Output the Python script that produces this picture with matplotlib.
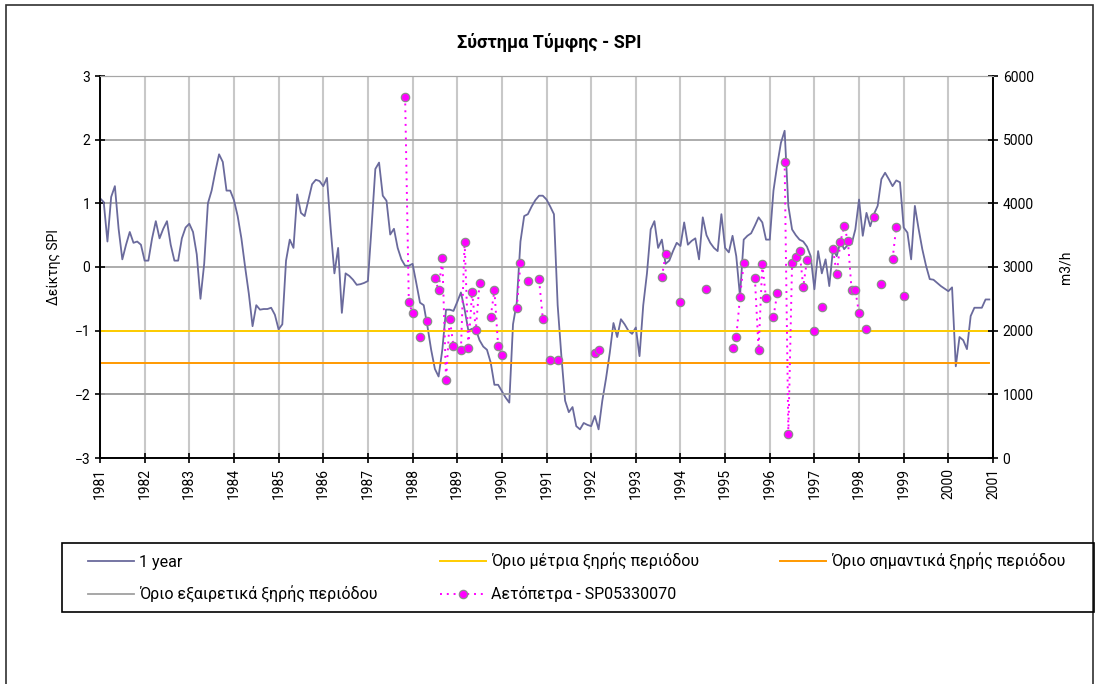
import matplotlib
matplotlib.use("Agg")
import matplotlib.pyplot as plt
from matplotlib.patches import Rectangle
import numpy as np

plt.rcParams['font.family'] = ['Roboto', 'DejaVu Sans']

# SPI 1 year, monthly values Jan 1981 - Dec 2000
spi_1year = [
    1.08, 1.02, 0.4, 1.1, 1.27, 0.6, 0.12, 0.35, 0.55, 0.38, 0.4, 0.35,          # 1981
    0.1, 0.1, 0.45, 0.72, 0.45, 0.6, 0.72, 0.35, 0.1, 0.1, 0.45, 0.62,           # 1982
    0.68, 0.55, 0.2, -0.5, 0.05, 1.0, 1.2, 1.5, 1.77, 1.65, 1.2, 1.2,            # 1983
    1.05, 0.8, 0.45, 0.0, -0.42, -0.93, -0.6, -0.67, -0.66, -0.66, -0.64, -0.75, # 1984
    -0.98, -0.9, 0.1, 0.43, 0.3, 1.14, 0.85, 0.8, 1.05, 1.3, 1.37, 1.35,         # 1985
    1.27, 1.4, 0.6, -0.1, 0.3, -0.72, -0.1, -0.14, -0.2, -0.28, -0.27, -0.25,    # 1986
    -0.22, 0.64, 1.54, 1.64, 1.12, 1.04, 0.51, 0.6, 0.3, 0.12, 0.02, 0.02,       # 1987
    0.05, -0.25, -0.56, -0.6, -0.93, -1.3, -1.6, -1.72, -1.3, -0.67, -0.67, -0.69,  # 1988
    -0.55, -0.4, -0.67, -1.0, -0.97, -0.98, -1.15, -1.25, -1.3, -1.5, -1.85, -1.85, # 1989
    -1.95, -2.05, -2.13, -0.9, -0.56, 0.4, 0.8, 0.83, 0.95, 1.05, 1.12, 1.12,    # 1990
    1.06, 0.95, 0.83, -0.6, -1.4, -2.1, -2.28, -2.2, -2.5, -2.55, -2.45, -2.48,  # 1991
    -2.5, -2.34, -2.55, -2.1, -1.75, -1.35, -0.88, -1.1, -0.82, -0.9, -1.0, -1.05,  # 1992
    -0.95, -1.4, -0.6, -0.1, 0.59, 0.72, 0.3, 0.43, 0.05, 0.1, 0.25, 0.38,       # 1993
    0.33, 0.7, 0.35, 0.41, 0.45, 0.12, 0.78, 0.5, 0.38, 0.3, 0.25, 0.83,         # 1994
    0.3, 0.23, 0.49, 0.17, -0.46, 0.43, 0.49, 0.53, 0.65, 0.78, 0.7, 0.43,       # 1995
    0.43, 1.2, 1.6, 1.95, 2.14, 0.96, 0.59, 0.5, 0.43, 0.4, 0.32, 0.17,          # 1996
    -0.35, 0.25, -0.1, 0.12, -0.3, 0.28, 0.17, 0.4, 0.28, 0.35, 0.36, 0.59,      # 1997
    1.06, 0.49, 0.85, 0.64, 0.83, 0.96, 1.38, 1.48, 1.38, 1.27, 1.36, 1.33,      # 1998
    0.62, 0.54, 0.12, 0.96, 0.6, 0.28, 0.02, -0.19, -0.2, -0.25, -0.3, -0.34,    # 1999
    -0.38, -0.32, -1.56, -1.1, -1.15, -1.29, -0.77, -0.64, -0.64, -0.64, -0.51, -0.51,  # 2000
]

# dry period thresholds
limit_moderate = -1.0
limit_severe = -1.5
limit_extreme = -2.0

# Αετόπετρα - SP05330070 (m3/h), month index counted from Jan 1981
aet_month = [82, 83, 84, 86, 88, 90, 91, 92, 93, 94, 95, 97, 98, 99, 100, 101, 102,
             105, 106, 107, 108, 112, 113, 115, 118, 119, 121, 123, 133, 134, 151,
             152, 156, 163, 170, 171, 172, 173, 176, 177, 178, 179, 181, 182, 184,
             185, 186, 187, 188, 189, 190, 192, 194, 197, 198, 199, 200, 201, 202,
             203, 204, 206, 208, 210, 213, 214, 216]
aet_value = [5675, 2452, 2270, 1902, 2154, 2820, 2636, 3144, 1221, 2191, 1756, 1693,
             3395, 1720, 2610, 2018, 2741, 2216, 2636, 1756, 1614, 2349, 3056, 2782,
             2804, 2191, 1547, 1547, 1651, 1693, 2836, 3202, 2452, 2647, 1729, 1902,
             2521, 3056, 2830, 1704, 3045, 2506, 2216, 2584, 4653, 384, 3066, 3150,
             3254, 2688, 3108, 1996, 2374, 3276, 2888, 3395, 3642, 3411, 2636, 2636,
             2270, 2034, 3788, 2726, 3119, 3631, 2542]

years = list(range(1981, 2002))

t = 1981 + np.arange(len(spi_1year)) / 12.0
aet = np.full(len(spi_1year), np.nan)
aet[aet_month] = aet_value

W, H = 1099, 684
fig = plt.figure(figsize=(W / 100, H / 100), dpi=100)
# outer chart frame
fig.patches.append(Rectangle((6 / W, -0.1), 1087 / W, 1.1 - 5 / H,
                             transform=fig.transFigure, fill=False,
                             edgecolor='#303030', lw=1.2))
# legend frame
fig.patches.append(Rectangle((62 / W, 1 - 612 / H), 1032 / W, 69 / H,
                             transform=fig.transFigure, fill=False,
                             edgecolor='black', lw=1.2))

ax = fig.add_axes([100 / W, 1 - 458 / H, 893 / W, 382 / H])
ax.set_axisbelow(True)
ax.grid(axis='x', color='#c8c8c8', lw=1.5)
ax.grid(axis='y', color='#a6a6a6', lw=1.3)

l1, = ax.plot(t, spi_1year, color='#6a6a9c', lw=1.3, label='1 year')
l4, = ax.plot(t, np.full(len(t), limit_extreme), color='#a0a0a0', lw=1.3,
              label='Όριο εξαιρετικά ξηρής περιόδου')
l2, = ax.plot(t, np.full(len(t), limit_moderate), color='#ffcc00', lw=1.4,
              label='Όριο μέτρια ξηρής περιόδου')
l3, = ax.plot(t, np.full(len(t), limit_severe), color='#ff9900', lw=1.4,
              label='Όριο σημαντικά ξηρής περιόδου')

ax.set_xlim(1981, 2001)
ax.set_ylim(-3, 3)
ax.set_yticks(range(-3, 4))
ax.set_xticks(years)
ax.set_xticklabels([str(y) for y in years], rotation=90)
ax.tick_params(direction='inout', length=7, width=1.2, labelsize=10, colors='black')
ax.set_ylabel('Δείκτης SPI', fontsize=10, labelpad=10)
for s in ['left', 'bottom', 'right']:
    ax.spines[s].set_color('black')
    ax.spines[s].set_linewidth(1.2)
ax.spines['top'].set_color('#a6a6a6')

ax2 = ax.twinx()
l5, = ax2.plot(t, aet, color='#ff00ff', ls=(0, (1, 2.5)), lw=1.4, marker='o',
               markersize=6, markerfacecolor='#ff00ff', markeredgecolor='#8c8c8c',
               markeredgewidth=0.9, label='Αετόπετρα - SP05330070')
ax2.set_ylim(0, 6000)
ax2.set_yticks(range(0, 6001, 1000))
ax2.tick_params(direction='inout', length=7, width=1.2, labelsize=10)
ax2.set_ylabel('m3/h', fontsize=10, labelpad=18)
ax2.spines['right'].set_linewidth(1.2)
ax2.spines['left'].set_linewidth(1.2)
ax2.spines['bottom'].set_linewidth(1.2)
ax2.spines['top'].set_color('#a6a6a6')

fig.text(0.5, 1 - 42 / H, 'Σύστημα Τύμφης - SPI', ha='center', va='center',
         fontsize=13, fontweight='bold')

leg_kw = dict(loc='upper left', frameon=False, borderaxespad=0, borderpad=0,
              fontsize=11.5, handlelength=2.9, handletextpad=0.3, labelspacing=1.0)
# first two legend columns
h12 = [l1, l4, l2, l5]
leg1 = fig.legend(handles=h12, labels=[h.get_label() for h in h12], ncol=2,
                  bbox_to_anchor=(88 / W, 1 - 553 / H), columnspacing=3.9, **leg_kw)
# third legend column
leg2 = fig.legend(handles=[l3], labels=[l3.get_label()], ncol=1,
                  bbox_to_anchor=(780 / W, 1 - 553 / H), **leg_kw)

fig.savefig('out.png', dpi=100)
